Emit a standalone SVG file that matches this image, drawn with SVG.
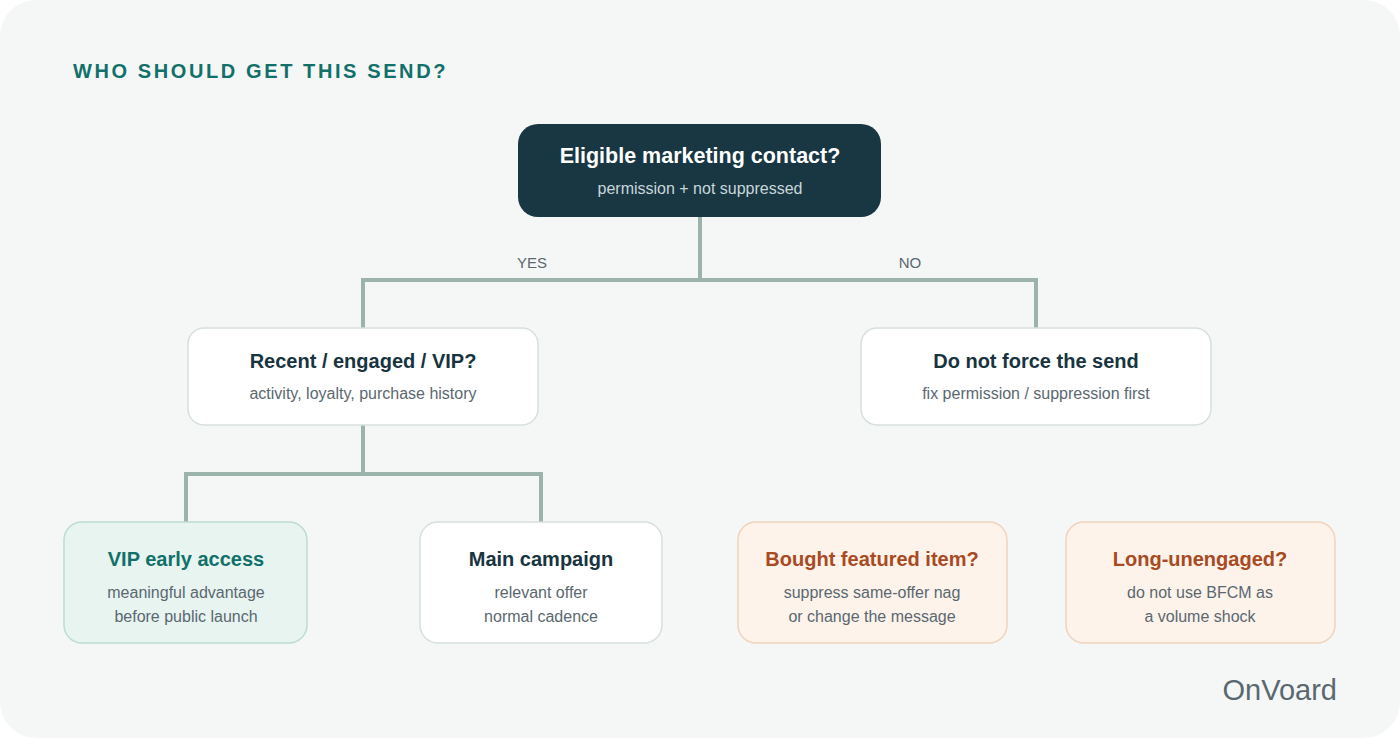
<svg xmlns="http://www.w3.org/2000/svg" width="1400" height="738" viewBox="0 0 1400 738">
<style>
text{font-family:"Liberation Sans",Arial,sans-serif;text-anchor:middle}
.t{font-size:20px;font-weight:bold;fill:#17343f}
.s{font-size:16px;fill:#5a6870}
.w{fill:#fff;stroke:#d6e0dc;stroke-width:1.5}
.g{fill:#e8f4f0;stroke:#bcdcd2;stroke-width:1.5}
.o{fill:#fdf3eb;stroke:#f0d3bc;stroke-width:1.5}
.c{fill:none;stroke:#9bb3ab;stroke-width:4}
</style>
<rect width="1400" height="738" fill="#fff"/>
<rect width="1400" height="738" rx="36" fill="#f5f7f6"/>
<text x="73" y="78" style="text-anchor:start;font-size:20px;font-weight:bold;fill:#12706a;letter-spacing:2.6px">WHO SHOULD GET THIS SEND?</text>
<g id="connectors">
<path class="c" d="M700 217V280M363 328V280H1036V328M363 425V474M186 522V474H541V522"/>
<text x="532" y="268" class="s" style="font-size:15px">YES</text>
<text x="910" y="268" class="s" style="font-size:15px">NO</text>
</g>
<g id="root"><rect x="518" y="124" width="363" height="93" rx="20" fill="#183743"/>
<text x="700" y="163" class="t" style="fill:#fff;font-size:21.5px">Eligible marketing contact?</text>
<text x="700" y="194" class="s" style="fill:#c9d6da">permission + not suppressed</text></g>
<g id="recent"><rect class="w" x="188" y="328" width="350" height="97" rx="16"/>
<text x="363" y="368" class="t">Recent / engaged / VIP?</text>
<text x="363" y="399" class="s">activity, loyalty, purchase history</text></g>
<g id="noforce"><rect class="w" x="861" y="328" width="350" height="97" rx="16"/>
<text x="1036" y="368" class="t">Do not force the send</text>
<text x="1036" y="399" class="s">fix permission / suppression first</text></g>
<g id="vip"><rect class="g" x="64" y="522" width="243" height="121" rx="18"/>
<text x="186" y="566" class="t" style="fill:#12706a">VIP early access</text>
<text x="186" y="598" class="s">meaningful advantage</text>
<text x="186" y="622" class="s">before public launch</text></g>
<g id="main"><rect class="w" x="420" y="522" width="242" height="121" rx="18"/>
<text x="541" y="566" class="t">Main campaign</text>
<text x="541" y="598" class="s">relevant offer</text>
<text x="541" y="622" class="s">normal cadence</text></g>
<g id="bought"><rect class="o" x="738" y="522" width="269" height="121" rx="18"/>
<text x="872" y="566" class="t" style="fill:#a84a22">Bought featured item?</text>
<text x="872" y="598" class="s">suppress same-offer nag</text>
<text x="872" y="622" class="s">or change the message</text></g>
<g id="long"><rect class="o" x="1066" y="522" width="269" height="121" rx="18"/>
<text x="1200" y="566" class="t" style="fill:#a84a22">Long-unengaged?</text>
<text x="1200" y="598" class="s">do not use BFCM as</text>
<text x="1200" y="622" class="s">a volume shock</text></g>
<text x="1337" y="700" style="text-anchor:end;font-size:29px;fill:#5a6870">OnVoard</text>
</svg>
